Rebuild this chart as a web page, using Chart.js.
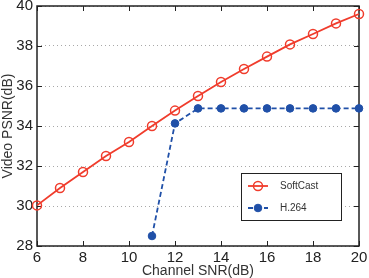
<!DOCTYPE html>
<html lang="en">

<head>
    <meta charset="UTF-8">
    <title>SoftCast vs H.264</title>
    <style>
        body { margin: 0; background: #fff; }
        #chart { display: block; }
    </style>
</head>

<body>
    <canvas id="chart" width="369" height="278"></canvas>

    <script src="https://cdn.jsdelivr.net/npm/chart.js@4.4.3/dist/chart.umd.min.js"></script>

    <script>
        // data
        const snr = [6, 7, 8, 9, 10, 11, 12, 13, 14, 15, 16, 17, 18, 19, 20]
        const softcast = [30.03, 30.9, 31.7, 32.5, 33.2, 34.0, 34.77, 35.5, 36.2, 36.85, 37.47, 38.08, 38.6, 39.13, 39.6]
        const h264Snr = [11, 12, 13, 14, 15, 16, 17, 18, 19, 20]
        const h264 = [28.5, 34.13, 34.88, 34.88, 34.88, 34.88, 34.88, 34.88, 34.88, 34.88]
        const xTicks = [6, 8, 10, 12, 14, 16, 18, 20]
        const yTicks = [28, 30, 32, 34, 36, 38, 40]

        const RED = '#f03c2c'
        const BLUE = '#2050a8'
        const FONT = 'Liberation Sans, Arial, sans-serif'

        // box + inward ticks on all four sides
        const framePlugin = {
            id: 'frame',
            beforeDatasetsDraw(chart) {
                const { ctx, chartArea: a, scales: { x, y } } = chart
                ctx.save()
                ctx.strokeStyle = '#222'
                ctx.lineWidth = 1
                ctx.beginPath()
                xTicks.forEach(v => {
                    const px = Math.round(x.getPixelForValue(v)) + 0.5
                    ctx.moveTo(px, a.bottom); ctx.lineTo(px, a.bottom - 5)
                    ctx.moveTo(px, a.top); ctx.lineTo(px, a.top + 5)
                })
                yTicks.forEach(v => {
                    const py = Math.round(y.getPixelForValue(v)) + 0.5
                    ctx.moveTo(a.left, py); ctx.lineTo(a.left + 5, py)
                    ctx.moveTo(a.right, py); ctx.lineTo(a.right - 5, py)
                })
                ctx.stroke()
                ctx.lineWidth = 1.5
                ctx.strokeRect(a.left, a.top, a.right - a.left, a.bottom - a.top)
                ctx.restore()
            }
        }

        // legend box inside the plot, lower right
        const legendBox = {
            id: 'legendBox',
            afterDraw(chart) {
                const { ctx, chartArea: a } = chart
                const bx = a.right - 118, by = a.bottom - 73, bw = 100, bh = 47
                ctx.save()
                ctx.fillStyle = '#fff'
                ctx.fillRect(bx, by, bw, bh)
                ctx.strokeStyle = '#222'
                ctx.lineWidth = 1
                ctx.strokeRect(bx + 0.5, by + 0.5, bw, bh)
                chart.data.datasets.forEach((ds, i) => {
                    const ly = by + 13 + i * 22
                    ctx.strokeStyle = ds.borderColor
                    ctx.lineWidth = ds.borderWidth
                    ctx.setLineDash(ds.borderDash || [])
                    ctx.beginPath()
                    ctx.moveTo(bx + 7, ly); ctx.lineTo(bx + 27, ly)
                    ctx.stroke()
                    ctx.setLineDash([])
                    ctx.beginPath()
                    ctx.arc(bx + 17, ly, ds.pointRadius, 0, Math.PI * 2)
                    ctx.fillStyle = ds.pointBackgroundColor
                    ctx.fill()
                    ctx.lineWidth = ds.pointBorderWidth
                    ctx.strokeStyle = ds.pointBorderColor
                    ctx.stroke()
                    ctx.fillStyle = '#333'
                    ctx.font = '10px ' + FONT
                    ctx.textBaseline = 'middle'
                    ctx.fillText(ds.label, bx + 39, ly + 0.5)
                })
                ctx.restore()
            }
        }

        new Chart(document.getElementById('chart'), {
            type: 'line',
            data: {
                datasets: [{
                    label: 'SoftCast',
                    data: snr.map((s, i) => ({ x: s, y: softcast[i] })),
                    borderColor: RED,
                    borderWidth: 1.8,
                    pointRadius: 4.5,
                    pointBorderWidth: 1.5,
                    pointBorderColor: RED,
                    pointBackgroundColor: 'rgba(255,255,255,0)',
                    tension: 0,
                    clip: false,
                }, {
                    label: 'H.264',
                    data: h264Snr.map((s, i) => ({ x: s, y: h264[i] })),
                    borderColor: BLUE,
                    borderWidth: 1.8,
                    borderDash: [5, 3],
                    pointRadius: 3.8,
                    pointBorderWidth: 1,
                    pointBorderColor: BLUE,
                    pointBackgroundColor: BLUE,
                    tension: 0,
                    clip: false,
                }],
            },
            options: {
                responsive: false,
                animation: false,
                layout: { padding: { top: 6, right: 10, left: 0, bottom: 0 } },
                plugins: { legend: { display: false }, tooltip: { enabled: false } },
                scales: {
                    x: {
                        type: 'linear',
                        min: 6, max: 20,
                        afterBuildTicks(s) { s.ticks = xTicks.map(v => ({ value: v })) },
                        afterFit(s) { s.height = 32; s.paddingLeft = 0; s.paddingRight = 0 },
                        grid: { display: false, drawTicks: false },
                        border: { display: false },
                        ticks: { padding: 3, color: '#222', font: { family: FONT, size: 15 }, maxRotation: 0 },
                        title: { display: true, text: 'Channel SNR(dB)', color: '#333', padding: 0, font: { family: FONT, size: 14, lineHeight: 1 } },
                    },
                    y: {
                        min: 28, max: 40,
                        afterBuildTicks(s) { s.ticks = yTicks.map(v => ({ value: v })) },
                        afterFit(s) { s.width = 37; s.paddingTop = 0; s.paddingBottom = 0 },
                        grid: { color: '#a8a8a8', lineWidth: 1, borderDash: [1, 3], drawTicks: false },
                        border: { display: false, dash: [1, 3] },
                        ticks: { padding: 4, color: '#222', font: { family: FONT, size: 15 } },
                        title: { display: true, text: 'Video PSNR(dB)', color: '#333', padding: 1, font: { family: FONT, size: 14, lineHeight: 1 } },
                    },
                },
            },
            plugins: [framePlugin, legendBox],
        })
    </script>
</body>

</html>
